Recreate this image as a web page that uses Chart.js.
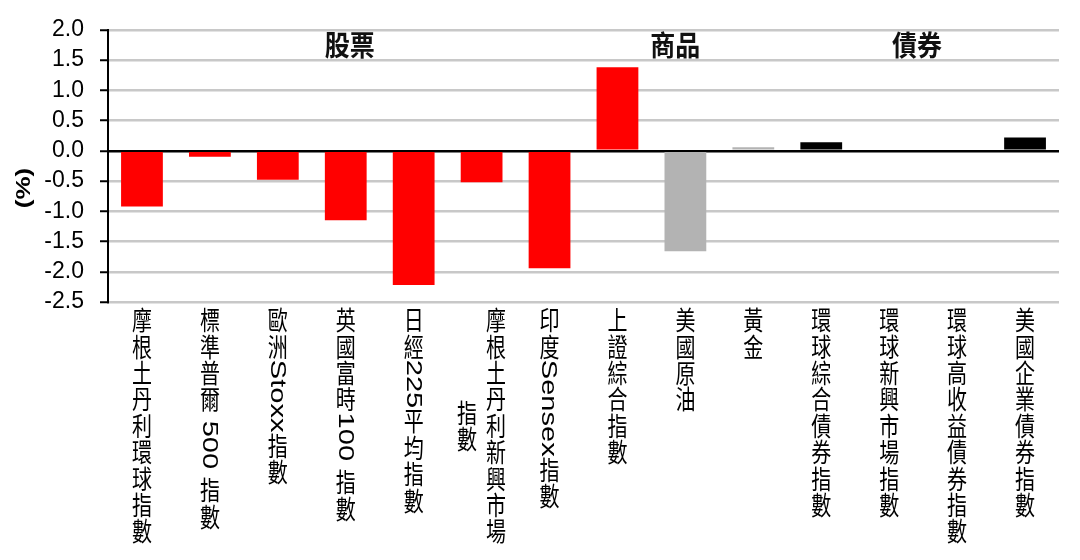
<!DOCTYPE html>
<html>
<head>
<meta charset="utf-8">
<script src="https://cdn.jsdelivr.net/npm/chart.js@4.4.1/dist/chart.umd.min.js"></script>
<style>
  html, body { margin: 0; padding: 0; background: #fff; }
  #wrap { width: 1080px; height: 560px; }
</style>
</head>
<body>
<div id="wrap"><canvas id="chart" width="1080" height="560"></canvas></div>
<script>
// Category labels (one entry per bar, nested array = wrapped into columns)
const categories = [
    '摩根土丹利環球指數',
    '標準普爾 500 指數',
    '歐洲Stoxx指數',
    '英國富時100 指數',
    '日經225平均指數',
    ['摩根土丹利新興市場', '指數'],
    '印度Sensex指數',
    '上證綜合指數',
    '美國原油',
    '黃金',
    '環球綜合債券指數',
    '環球新興市場指數',
    '環球高收益債券指數',
    '美國企業債券指數'
];

// Change, %
const values = [-0.92, -0.10, -0.48, -1.15, -2.22, -0.52, -1.94, 1.38, -1.66, 0.06, 0.14, 0.02, 0.02, 0.22];

const barColors = [
    '#ff0000', '#ff0000', '#ff0000', '#ff0000', '#ff0000', '#ff0000', '#ff0000', '#ff0000',
    '#b3b3b3', '#b3b3b3',
    '#000000', '#000000', '#000000', '#000000'
];

// Group headings and where they sit (category index)
const groupNames = ['股票', '商品', '債券'];
const groupPos = [3.06, 7.85, 11.41];

const yTicks = [2.0, 1.5, 1.0, 0.5, 0.0, -0.5, -1.0, -1.5, -2.0, -2.5];
const yTitle = '(%)';

const CJK_FONT = '"Noto Sans CJK TC", "Noto Sans CJK SC", sans-serif';
const LATIN_FONT = '"Liberation Sans", Arial, sans-serif';

function isCJK(ch) {
    return /[\u2E80-\u9FFF\uF900-\uFAFF\u3000-\u303F\uFF00-\uFFEF]/.test(ch);
}

// split a line into CJK chars and latin runs
function splitRuns(line) {
    const runs = [];
    let buf = '';
    for (const ch of line) {
        if (isCJK(ch)) {
            if (buf) { runs.push({ latin: true, text: buf }); buf = ''; }
            runs.push({ latin: false, text: ch });
        } else {
            buf += ch;
        }
    }
    if (buf) runs.push({ latin: true, text: buf });
    return runs;
}

const CJK_SIZE = 20;
const LATIN_SIZE = 22;
const STRETCH = 1.32;

function columnLength(ctx, line) {
    let len = 0;
    splitRuns(line).forEach(r => {
        if (r.latin) {
            ctx.font = LATIN_SIZE + 'px ' + LATIN_FONT;
            len += ctx.measureText(r.text).width;
        } else {
            len += CJK_SIZE;
        }
    });
    return len;
}

function drawColumn(ctx, line, cx, top) {
    ctx.save();
    ctx.translate(cx, top);
    ctx.scale(1, STRETCH);
    let y = 0;
    splitRuns(line).forEach(r => {
        if (r.latin) {
            ctx.font = LATIN_SIZE + 'px ' + LATIN_FONT;
            const w = ctx.measureText(r.text).width;
            ctx.save();
            ctx.translate(0, y);
            ctx.rotate(Math.PI / 2);
            ctx.textAlign = 'left';
            ctx.textBaseline = 'middle';
            ctx.fillText(r.text, 0, 1);
            ctx.restore();
            y += w;
        } else {
            ctx.font = CJK_SIZE + 'px ' + CJK_FONT;
            ctx.textAlign = 'center';
            ctx.textBaseline = 'middle';
            ctx.fillText(r.text, 0, y + CJK_SIZE / 2);
            y += CJK_SIZE;
        }
    });
    ctx.restore();
}

const labelPlugin = {
    id: 'verticalLabels',
    afterDraw(chart) {
        const ctx = chart.ctx;
        const xs = chart.scales.x;
        const area = chart.chartArea;
        ctx.save();
        ctx.fillStyle = '#000';

        // vertical category labels
        categories.forEach((lab, i) => {
            const lines = Array.isArray(lab) ? lab : [lab];
            const cx = xs.getPixelForValue(i);
            const lens = lines.map(l => columnLength(ctx, l));
            const maxLen = Math.max(...lens);
            const gap = 29;
            lines.forEach((l, j) => {
                const x = cx + ((lines.length - 1) / 2 - j) * gap;
                const top = area.bottom + 5 + (maxLen - lens[j]) / 2 * STRETCH;
                drawColumn(ctx, l, x, top);
            });
        });

        // group headings
        groupNames.forEach((g, i) => {
            const x = xs.getPixelForValue(groupPos[i]);
            ctx.save();
            ctx.translate(x, 45);
            ctx.scale(1, 1.15);
            ctx.font = 'bold 25px ' + CJK_FONT;
            ctx.textAlign = 'center';
            ctx.textBaseline = 'middle';
            ctx.fillStyle = '#111';
            ctx.fillText(g, 0, 0);
            ctx.restore();
        });

        // y axis title
        ctx.save();
        ctx.translate(24, 188);
        ctx.scale(1, 1.3);
        ctx.rotate(-Math.PI / 2);
        ctx.font = 'bold 20px ' + LATIN_FONT;
        ctx.textAlign = 'center';
        ctx.textBaseline = 'middle';
        ctx.fillText(yTitle, 0, 0);
        ctx.restore();

        ctx.restore();
    }
};

new Chart(document.getElementById('chart'), {
    type: 'bar',
    data: {
        labels: categories.map(c => Array.isArray(c) ? c.join('') : c),
        datasets: [{
            data: values,
            backgroundColor: barColors,
            borderWidth: 0,
            barPercentage: 0.615,
            categoryPercentage: 1.0
        }]
    },
    options: {
        responsive: false,
        animation: false,
        layout: { padding: { left: 0, right: 21, top: 26, bottom: 258 } },
        plugins: {
            legend: { display: false },
            tooltip: { enabled: false }
        },
        scales: {
            x: {
                display: false,
                offset: true
            },
            y: {
                min: -2.5,
                max: 2.0,
                afterFit: s => { s.width = 108; },
                afterBuildTicks: s => { s.ticks = yTicks.map(v => ({ value: v })); },
                border: { display: true, color: '#000', width: 2 },
                grid: {
                    color: c => (c.tick && c.tick.value === 0) ? '#000' : '#c8c8c8',
                    lineWidth: 2.5,
                    tickColor: '#000',
                    tickLength: 8,
                    tickWidth: 2
                },
                ticks: {
                    color: '#000',
                    padding: 16,
                    font: { family: LATIN_FONT, size: 23 },
                    callback: v => Number(v).toFixed(1)
                }
            }
        }
    },
    plugins: [labelPlugin]
});
</script>
</body>
</html>
